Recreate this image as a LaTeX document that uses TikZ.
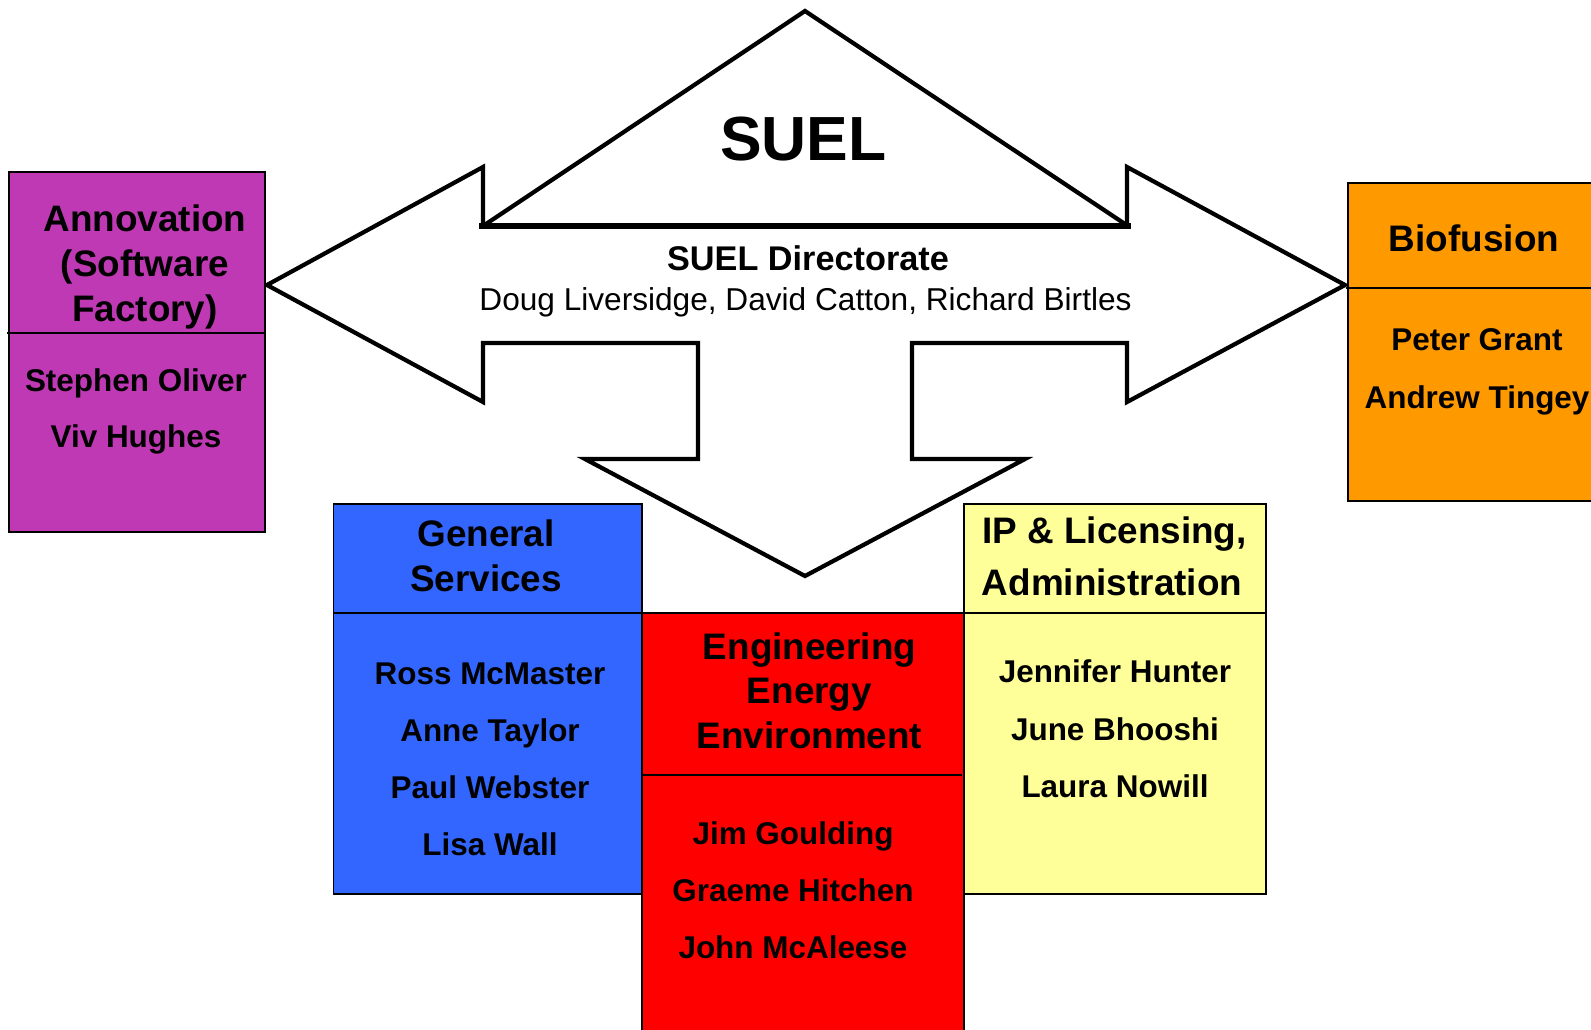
\documentclass[tikz,border=0pt]{standalone}
\usepackage{fontspec}
\setmainfont{Liberation Sans}
\definecolor{annov}{RGB}{192,57,180}
\definecolor{gserv}{RGB}{51,102,255}
\definecolor{engin}{RGB}{255,0,0}
\definecolor{iplic}{RGB}{255,255,153}
\definecolor{biofu}{RGB}{255,153,0}

\begin{document}
\begin{tikzpicture}[x=0.02cm,y=-0.02cm,
	head/.style={anchor=base,inner sep=0pt,font=\fontsize{21}{25}\selectfont\bfseries},
	who/.style={anchor=base,inner sep=0pt,font=\fontsize{17.9}{21}\selectfont\bfseries},
	unit/.style={draw,line width=1pt}]
	\useasboundingbox (0,0) rectangle (1591,1029);

	% three way arrow with the roof on top
	\draw[line width=2.4pt,fill=white] (483,226) -- (483,167) -- (267,285) -- (483,402) -- (483,343) -- (698,343) -- (698,459) -- (585,459) -- (805,576) -- (1025,459) -- (912,459) -- (912,343) -- (1127,343) -- (1127,402) -- (1345,285) -- (1127,167) -- (1127,226) -- cycle;
	\draw[line width=2.4pt] (483,226) -- (805,11) -- (1128,226);
	\draw[line width=3pt] (479,226) -- (1131,226);

	\node[anchor=base,inner sep=0pt,font=\fontsize{35.5}{40}\selectfont\bfseries] (suel) at (803.5,160.7) {SUEL};
	\node[anchor=base,inner sep=0pt,font=\fontsize{19.5}{23}\selectfont\bfseries] (dir) at (808,270) {SUEL Directorate};
	\node[anchor=base,inner sep=0pt,font=\fontsize{18}{22}\selectfont] (dirnames) at (805.5,310) {Doug Liversidge, David Catton, Richard Birtles};

	% the units
	\fill[annov] (9,172) rectangle (265,532);
	\draw[unit] (9,172) rectangle (265,532);
	\draw[line width=0.9pt] (7,333) -- (265,333);

	\fill[gserv] (333.5,504) rectangle (642,894);
	\draw[unit] (333.5,504) rectangle (642,894);
	\draw[line width=0.9pt] (333.5,613) -- (642,613);

	\fill[iplic] (964,504) rectangle (1266,894);
	\draw[unit] (964,504) rectangle (1266,894);
	\draw[line width=0.9pt] (964,613) -- (1266,613);

	\fill[engin] (642,613) rectangle (964,1040);
	\draw[unit] (642,613) rectangle (964,1040);
	\draw[line width=0.9pt] (642,775) -- (962,775);

	\fill[biofu] (1348,183) rectangle (1600,501);
	\draw[unit] (1348,183) rectangle (1600,501);
	\draw[line width=0.9pt] (1346,288) -- (1600,288);

	% titles
	\node[head] (anv1) at (145,231) {Annovation};
	\node[head] (anv2) at (145,276.3) {(Software};
	\node[head] (anv3) at (145,321.6) {Factory)};
	\foreach \ttl/\y [count=\i] in {General/546,Services/591}
		\node[head] (gs\i) at (486,\y) {\ttl};
	\foreach \ttl/\y [count=\i] in {Engineering/659,Energy/703.5,Environment/748}
		\node[head] (eng\i) at (809.5,\y) {\ttl};
	\node[head] (ip1) at (1114.5,543) {IP \& Licensing,};
	\node[head] (ip2) at (1112,595.5) {Administration};
	\node[head] (bio) at (1474,251.7) {Biofusion};

	% people
	\foreach \p/\y [count=\i] in {Stephen Oliver/391,Viv Hughes/447}
		\node[who] (anvp\i) at (136,\y) {\p};
	\foreach \p/\y [count=\i] in {Ross McMaster/684,Anne Taylor/741,Paul Webster/798,Lisa Wall/855}
		\node[who] (gsp\i) at (490,\y) {\p};
	\foreach \p/\y [count=\i] in {Jim Goulding/844,Graeme Hitchen/901,John McAleese/958}
		\node[who] (engp\i) at (793,\y) {\p};
	\foreach \p/\y [count=\i] in {Jennifer Hunter/682,June Bhooshi/740,Laura Nowill/797}
		\node[who] (ipp\i) at (1115,\y) {\p};
	\foreach \p/\y [count=\i] in {Peter Grant/350,Andrew Tingey/408}
		\node[who] (biop\i) at (1477,\y) {\p};

\end{tikzpicture}
\end{document}
